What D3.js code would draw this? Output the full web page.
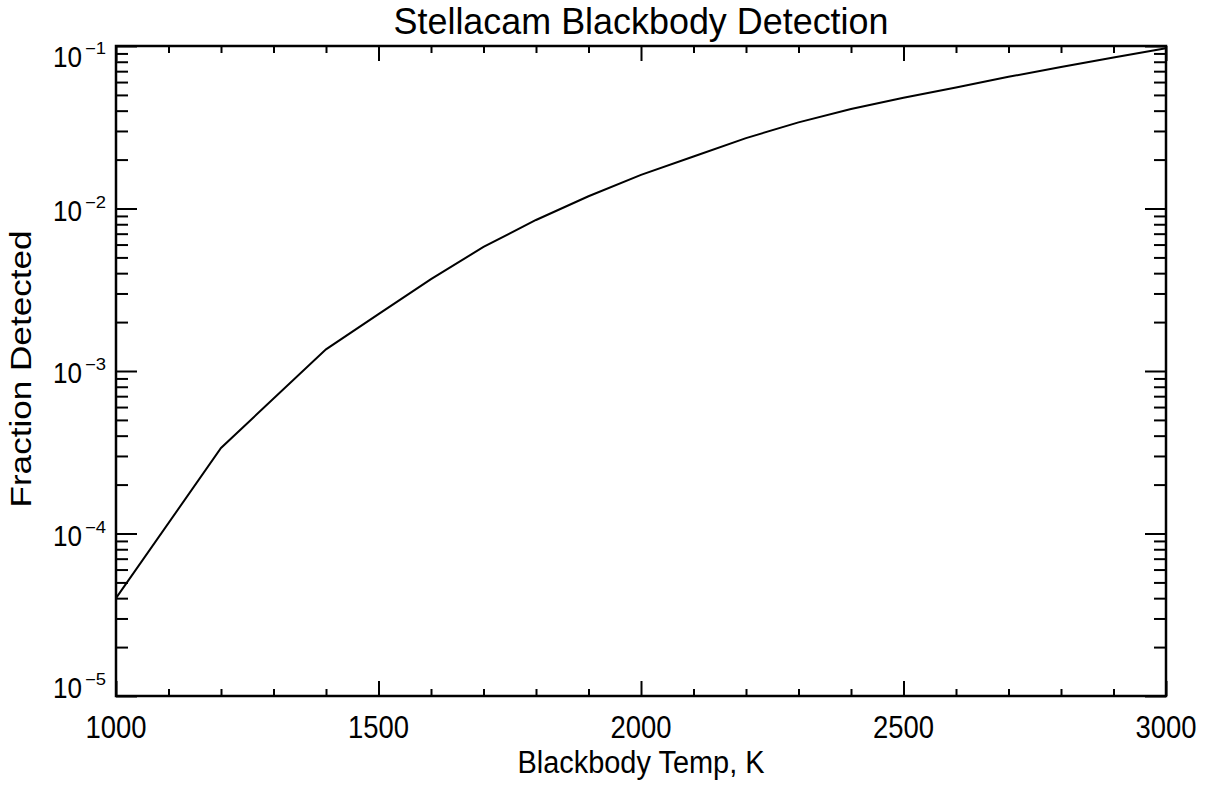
<!DOCTYPE html>
<html>
<head>
<meta charset="utf-8">
<script src="https://cdn.jsdelivr.net/npm/d3@7"></script>
<style>
  html, body { margin: 0; padding: 0; background: #fff; }
  svg { display: block; }
  text { font-family: "Liberation Sans", Arial, sans-serif; fill: #000; }
</style>
</head>
<body>
<svg id="chart" width="1212" height="788"></svg>
<script>
// ---- data ----
const temps = [1000, 1200, 1400, 1500, 1600, 1700, 1800, 1900, 2000, 2100, 2200, 2300, 2400, 2500, 2600, 2700, 2800, 2900, 3000];
const fraction = [4.0e-5, 3.36e-4, 1.36e-3, 2.24e-3, 3.68e-3, 5.8e-3, 8.5e-3, 1.19e-2, 1.61e-2, 2.09e-2, 2.71e-2, 3.39e-2, 4.1e-2, 4.8e-2, 5.56e-2, 6.46e-2, 7.43e-2, 8.5e-2, 9.7e-2];
const xMajorTicks = [1000, 1500, 2000, 2500, 3000];
const xTickLabels = ["1000", "1500", "2000", "2500", "3000"];
const yMajorTicks = [1e-5, 1e-4, 1e-3, 1e-2, 1e-1];
const titleText = "Stellacam Blackbody Detection";
const xTitle = "Blackbody Temp, K";
const yTitle = "Fraction Detected";

// ---- layout ----
const L = 116, R = 1166, T = 46, B = 696;
const svg = d3.select("#chart");

const x = d3.scaleLinear().domain([1000, 3000]).range([L, R]);
const y = d3.scaleLog().domain([1e-5, 1e-1]).range([B, T]);

const xMinor = d3.range(1000, 3001, 100).filter(v => v % 500 !== 0);
const yMinor = [];
for (let e = -5; e < -1; e++) for (let m = 2; m <= 9; m++) yMinor.push(m * Math.pow(10, e));

function styleAxis(g) {
  g.select(".domain").remove();
  g.selectAll("line").attr("stroke", "#000").attr("stroke-width", 2);
  g.selectAll("text").remove();
}

// bottom / top
svg.append("g").attr("transform", `translate(0,${B})`)
  .call(d3.axisBottom(x).tickValues(xMajorTicks).tickSize(-15)).call(styleAxis);
svg.append("g").attr("transform", `translate(0,${B})`)
  .call(d3.axisBottom(x).tickValues(xMinor).tickSize(-7)).call(styleAxis);
svg.append("g").attr("transform", `translate(0,${T})`)
  .call(d3.axisTop(x).tickValues(xMajorTicks).tickSize(-15)).call(styleAxis);
svg.append("g").attr("transform", `translate(0,${T})`)
  .call(d3.axisTop(x).tickValues(xMinor).tickSize(-7)).call(styleAxis);
// left / right
svg.append("g").attr("transform", `translate(${L},0)`)
  .call(d3.axisLeft(y).tickValues(yMajorTicks).tickSize(-21)).call(styleAxis);
svg.append("g").attr("transform", `translate(${L},0)`)
  .call(d3.axisLeft(y).tickValues(yMinor).tickSize(-12)).call(styleAxis);
svg.append("g").attr("transform", `translate(${R},0)`)
  .call(d3.axisRight(y).tickValues(yMajorTicks).tickSize(-21)).call(styleAxis);
svg.append("g").attr("transform", `translate(${R},0)`)
  .call(d3.axisRight(y).tickValues(yMinor).tickSize(-12)).call(styleAxis);

// frame
svg.append("rect").attr("x", L).attr("y", T).attr("width", R - L).attr("height", B - T)
  .attr("fill", "none").attr("stroke", "#000").attr("stroke-width", 2.5);

// x tick labels
svg.append("g").selectAll("text").data(xMajorTicks).join("text")
  .attr("x", d => x(d)).attr("y", B + 42)
  .attr("text-anchor", "middle").attr("font-size", 31)
  .attr("textLength", 61).attr("lengthAdjust", "spacingAndGlyphs")
  .text((d, i) => xTickLabels[i]);

// y tick labels (10^n)
const yl = svg.append("g").selectAll("g").data(yMajorTicks).join("g")
  .attr("transform", d => {
    const base = Math.max(T + 21, Math.min(B + 2, y(d) + 12));
    return `translate(0,${base})`;
  });
yl.append("text").attr("x", 82).attr("y", 0).attr("text-anchor", "end")
  .attr("font-size", 30).attr("textLength", 29).attr("lengthAdjust", "spacingAndGlyphs")
  .text("10");
yl.append("text").attr("x", 85).attr("y", -13).attr("text-anchor", "start")
  .attr("font-size", 16).attr("textLength", 21).attr("lengthAdjust", "spacingAndGlyphs")
  .text(d => "\u2212" + Math.abs(Math.round(Math.log10(d))));

// curve
const pts = temps.map((t, i) => [t, fraction[i]]);
svg.append("path").datum(pts)
  .attr("fill", "none").attr("stroke", "#000").attr("stroke-width", 2)
  .attr("d", d3.line().x(d => x(d[0])).y(d => y(d[1])));

// titles
svg.append("text").attr("x", 641).attr("y", 34).attr("text-anchor", "middle")
  .attr("font-size", 36).attr("textLength", 495).attr("lengthAdjust", "spacingAndGlyphs")
  .text(titleText);
svg.append("text").attr("x", 641).attr("y", 773).attr("text-anchor", "middle")
  .attr("font-size", 31).attr("textLength", 247).attr("lengthAdjust", "spacingAndGlyphs")
  .text(xTitle);
svg.append("text").attr("transform", "translate(31,369) rotate(-90)").attr("text-anchor", "middle")
  .attr("font-size", 29).attr("textLength", 277).attr("lengthAdjust", "spacingAndGlyphs")
  .text(yTitle);
</script>
</body>
</html>
